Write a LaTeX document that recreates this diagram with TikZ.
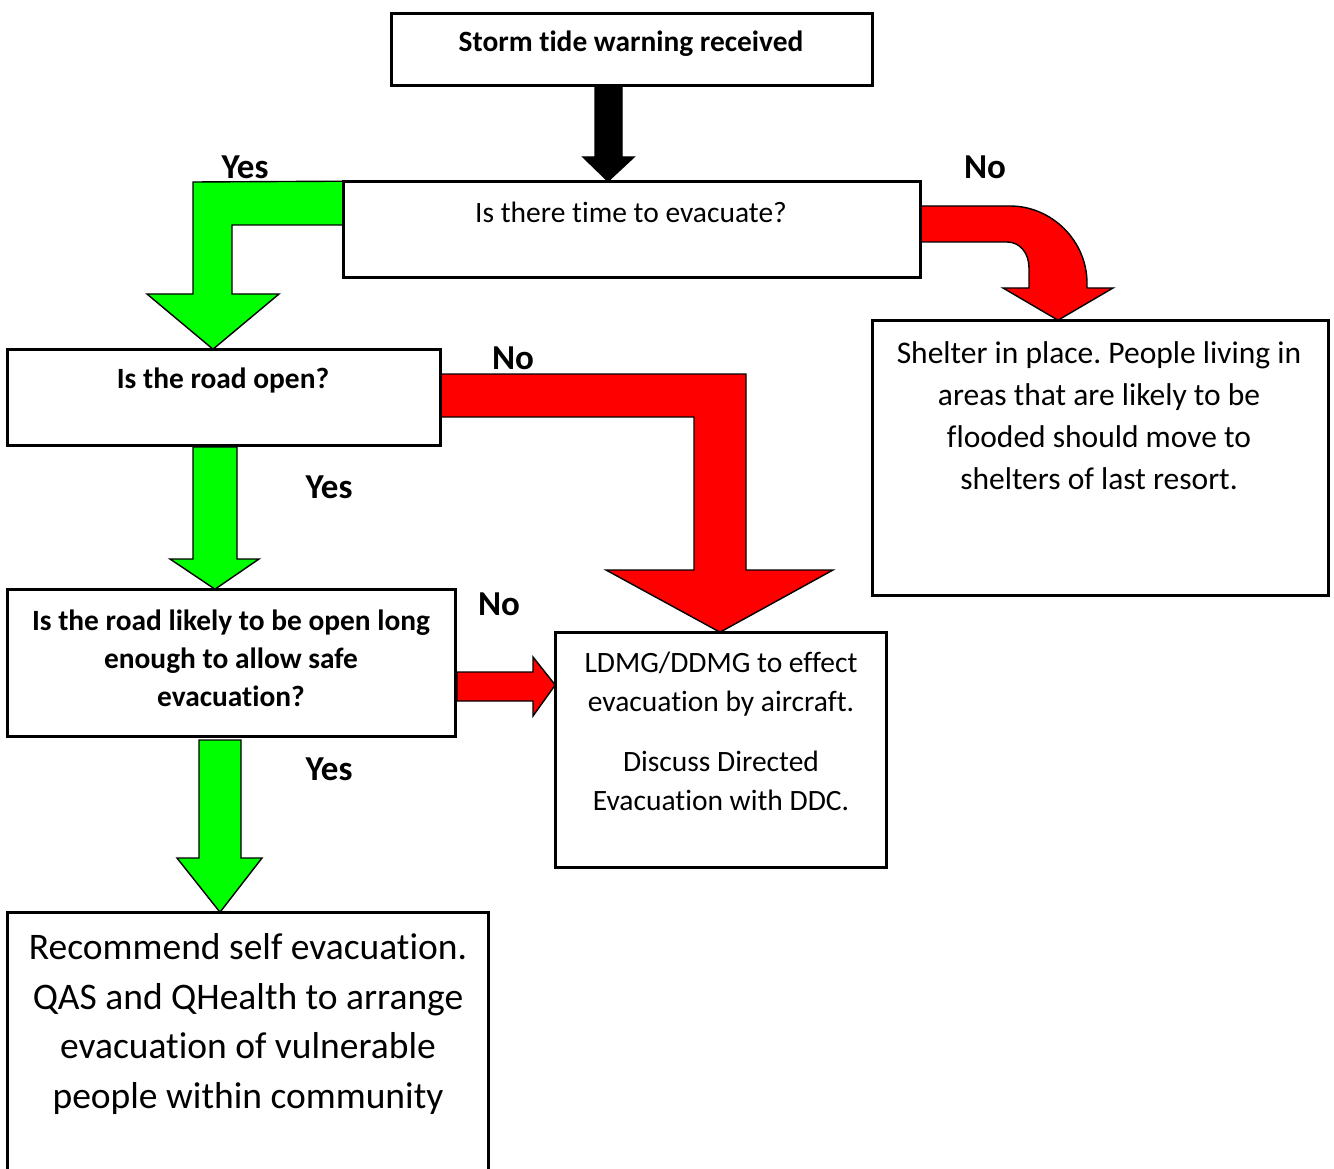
\documentclass[tikz,border=0pt]{standalone}
\usepackage{fontspec}
\setmainfont{Carlito}[Ligatures=NoCommon]
\frenchspacing
\begin{document}
\begin{tikzpicture}[x=1pt,y=-1pt,
  box/.style={draw=black, line width=1.6pt, inner sep=0pt},
  txt/.style={inner sep=0pt, align=center, font=\fontsize{29.5}{42}\selectfont},
  btxt/.style={inner sep=0pt, align=center, font=\bfseries\fontsize{29.4}{38}\selectfont},
  lbl/.style={inner sep=0pt, font=\bfseries\fontsize{35}{40}\selectfont},
  blockarrow/.style={draw=black, line width=1.4pt, line join=miter},
  greenarrow/.style={blockarrow, fill=arrowgreen},
  redarrow/.style={blockarrow, fill=arrowred},
  blackarrow/.style={blockarrow, fill=black}]
\definecolor{arrowgreen}{RGB}{0,255,0}
\definecolor{arrowred}{RGB}{255,0,0}
\useasboundingbox (0,0) rectangle (1334,1169);

% boxes (named, empty)
\node[box, minimum width=480pt, minimum height=71pt] (b1) at (632,49.5) {};
\node[box, minimum width=576pt, minimum height=95pt] (b2) at (632,229.5) {};
\node[box, minimum width=432pt, minimum height=95pt] (b3) at (224,397.5) {};
\node[box, minimum width=455pt, minimum height=274pt] (b4) at (1100.5,458) {};
\node[box, minimum width=447pt, minimum height=146pt] (b5) at (231.5,663) {};
\node[box, minimum width=330pt, minimum height=234pt] (b6) at (721,750) {};
\node[box, minimum width=480pt, minimum height=262pt] (b7) at (248,1044) {};

% block arrows
\draw[blackarrow] (595,0 |- b1.south) -- (622,0 |- b1.south) -- (622,157) -- (634,157)
  -- (608,0 |- b2.north) -- (583,157) -- (595,157) -- cycle;
\draw[greenarrow] (b2.north west) -- (193,182) -- (193,294) -- (147,294)
  -- (213,0 |- b3.north) -- (279,294) -- (232,294) -- (232,225) -- (b2.west |- 0,225) -- cycle;
\draw[redarrow] (b2.east |- 0,206) -- (1010,206) .. controls (1052,206) and (1087,241) .. (1087,283)
  -- (1087,288) -- (1113,288) -- (1058,0 |- b4.north) -- (1003,288) -- (1029,288) -- (1029,268)
  .. controls (1029,253) and (1020,242) .. (1007,242) -- (b2.east |- 0,242) -- cycle;
\draw[redarrow] (b3.east |- 0,374) -- (746,374) -- (746,570) -- (833,570) -- (720,0 |- b6.north)
  -- (606,570) -- (694,570) -- (694,417) -- (b3.east |- 0,417) -- cycle;
\draw[greenarrow] (193,447) -- (237,447) -- (237,559) -- (259,559) -- (215,0 |- b5.north)
  -- (170,559) -- (193,559) -- cycle;
\draw[redarrow] (457,672) -- (533,672) -- (533,657) -- (b6.west |- 0,685) -- (533,716)
  -- (533,701) -- (457,701) -- cycle;
\draw[greenarrow] (199,740) -- (241,740) -- (241,858) -- (262,858) -- (220,0 |- b7.north)
  -- (177,858) -- (199,858) -- cycle;

% redraw box borders on top
\foreach \b in {b1,b2,b3,b4,b5,b6,b7} \draw[line width=1.6pt] (\b.north west) rectangle (\b.south east);

% texts
\node[btxt] (t1) at (631,44) {Storm tide warning received};
\node[txt] (t2) at (631,212) {Is there time to evacuate?};
\node[btxt] (t3) at (223,380) {Is the road open?};
\node[txt, font=\fontsize{31.5}{42}\selectfont] (t4) at (1099,416) {Shelter in place. People living in\\areas that are likely to be\\flooded should move to\\shelters of last resort.};
\node[btxt] (t5) at (231,658) {Is the road likely to be open long\\enough to allow safe\\evacuation?};
\node[txt, font=\fontsize{29.5}{39}\selectfont] (t6) at (721,731.5) {LDMG/DDMG to effect\\evacuation by aircraft.\\[21pt]Discuss Directed\\Evacuation with DDC.};
\node[txt, font=\fontsize{37.5}{49.7}\selectfont] (t7) at (248,1024) {Recommend self evacuation.\\QAS and QHealth to arrange\\evacuation of vulnerable\\people within community};

% labels
\node[lbl] (l1) at (245,167) {Yes};
\node[lbl] (l2) at (985,167) {No};
\node[lbl] (l3) at (513,358) {No};
\node[lbl] (l4) at (329,487) {Yes};
\node[lbl] (l5) at (499,604) {No};
\node[lbl] (l6) at (329,769) {Yes};
\end{tikzpicture}
\end{document}
